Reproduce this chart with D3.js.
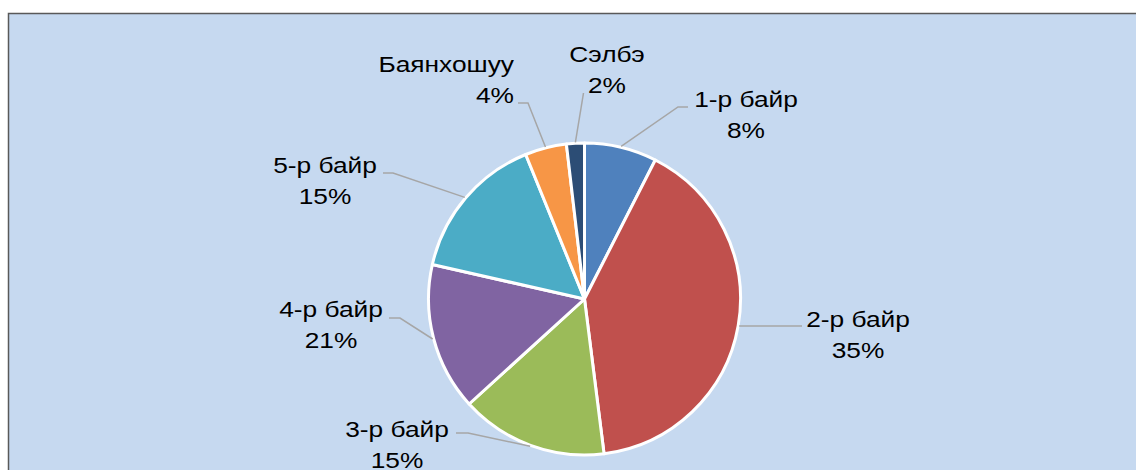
<!DOCTYPE html>
<html>
<head>
<meta charset="utf-8">
<script src="https://cdn.jsdelivr.net/npm/d3@7"></script>
<style>
  html, body { margin: 0; padding: 0; background: #ffffff; }
  svg { display: block; }
</style>
</head>
<body>
<div id="chart"></div>
<script>
// categories, in the order Excel draws them (clockwise from 12 o'clock)
const categories = ["1-р байр", "2-р байр", "3-р байр", "4-р байр", "5-р байр", "Баянхошуу", "Сэлбэ"];
// slice sizes (share of the circle, %)
const shares = [7.5, 40.5, 15.25, 15.3, 15.3, 4.3, 1.85];
// percentage texts as printed on the labels
const percentLabels = ["8%", "35%", "15%", "21%", "15%", "4%", "2%"];
const colors = ["#4f81bd", "#c0504d", "#9bbb59", "#8064a2", "#4bacc6", "#f79646", "#2c4d75"];

const width = 1136;
const height = 470;
const cx = 584.5;
const cy = 299;
const radius = 156;
const lineGap = 31;
const textStretch = 1.17; // the labels in the picture are drawn wide

// where each data label sits (x, first baseline), and the leader's elbow / end
const labelLayout = [
  { x: 746, y: 107, anchor: "middle", elbow: [678, 107], end: [688, 107] },
  { x: 858, y: 327, anchor: "middle", elbow: null, end: [802, 326] },
  { x: 397, y: 437, anchor: "middle", elbow: [468, 433], end: [456, 433] },
  { x: 331, y: 317, anchor: "middle", elbow: [400, 318], end: [389, 318] },
  { x: 325, y: 173, anchor: "middle", elbow: [393, 173], end: [383, 173] },
  { x: 514, y: 72, anchor: "end", elbow: [528, 103], end: [518, 103] },
  { x: 607, y: 62, anchor: "middle", elbow: null, end: [583.5, 93] },
];

const svg = d3
  .select("#chart")
  .append("svg")
  .attr("width", width)
  .attr("height", height);

// chart area (right and bottom edges run past the window)
svg
  .append("rect")
  .attr("x", 8.5)
  .attr("y", 13.5)
  .attr("width", width + 20)
  .attr("height", height + 20)
  .attr("fill", "#c6d9f0")
  .attr("stroke", "#595959")
  .attr("stroke-width", 1.5);

const pie = d3
  .pie()
  .sort(null)
  .value((d) => d);

const arcs = pie(shares);

const arc = d3.arc().innerRadius(0).outerRadius(radius);

const g = svg.append("g").attr("transform", `translate(${cx},${cy})`);

g.selectAll("path.slice")
  .data(arcs)
  .join("path")
  .attr("class", "slice")
  .attr("d", arc)
  .attr("fill", (d, i) => colors[i])
  .attr("stroke", "#ffffff")
  .attr("stroke-width", 3)
  .attr("stroke-linejoin", "round");

// leader lines: start on the rim at the middle of each slice
const rimPoint = (d) => {
  const a = (d.startAngle + d.endAngle) / 2;
  return [cx + Math.sin(a) * (radius + 1), cy - Math.cos(a) * (radius + 1)];
};

svg
  .append("g")
  .selectAll("path")
  .data(arcs)
  .join("path")
  .attr("fill", "none")
  .attr("stroke", "#a6a6a6")
  .attr("stroke-width", 1.5)
  .attr("d", (d, i) => {
    const lay = labelLayout[i];
    const pts = [rimPoint(d)];
    if (lay.elbow) pts.push(lay.elbow);
    pts.push(lay.end);
    return d3.line()(pts);
  });

// data labels
const labels = svg
  .append("g")
  .attr("font-family", "Arial, 'Liberation Sans', sans-serif")
  .attr("font-size", 22.5)
  .attr("fill", "#000000")
  .selectAll("text")
  .data(categories)
  .join("text")
  .attr("text-anchor", (d, i) => labelLayout[i].anchor)
  .attr(
    "transform",
    (d, i) => `translate(${labelLayout[i].x},${labelLayout[i].y}) scale(${textStretch},1)`
  );

labels
  .append("tspan")
  .attr("x", 0)
  .attr("y", 0)
  .text((d) => d);

labels
  .append("tspan")
  .attr("x", 0)
  .attr("y", lineGap)
  .text((d, i) => percentLabels[i]);
</script>
</body>
</html>
